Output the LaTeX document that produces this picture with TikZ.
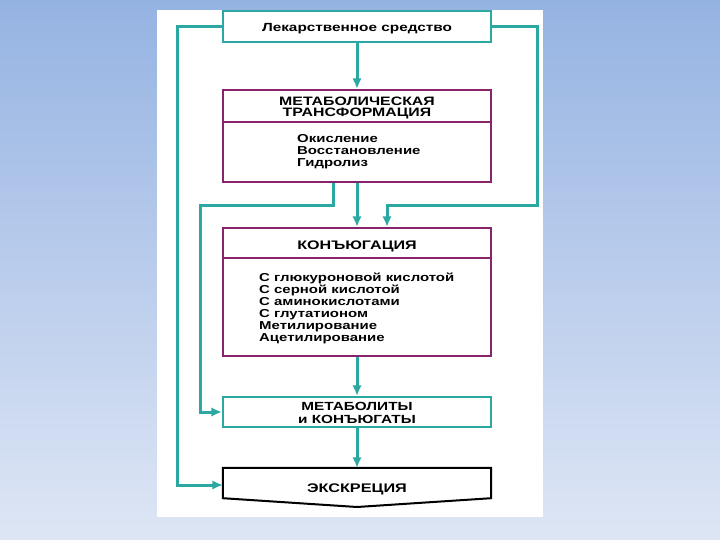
\documentclass[tikz,border=0pt]{standalone}
\usepackage{fontspec}
\setmainfont{Liberation Sans}[FakeStretch=1.3]
\usetikzlibrary{arrows.meta}
\definecolor{teal1}{RGB}{44,168,163}
\definecolor{purp}{RGB}{136,36,108}
\definecolor{bgtop}{RGB}{149,179,226}
\definecolor{bgbot}{RGB}{222,230,245}
\begin{document}
\begin{tikzpicture}[x=1pt,y=-1pt,
  tealbox/.style={draw=teal1,line width=2.3pt,fill=white,minimum width=268pt,inner sep=0pt},
  purpbox/.style={draw=purp,line width=2.3pt,fill=white,minimum width=268pt,inner sep=0pt},
  lbl/.style={inner sep=0pt, align=center},
  lst/.style={font=\fontsize{11.5}{12}\selectfont\bfseries, inner sep=0pt, align=left, anchor=north west},
  conn/.style={draw=teal1,line width=3pt},
  arr/.style={conn,-{Latex[length=10.5pt,width=9.5pt]}}
]
\useasboundingbox (0pt,0pt) rectangle (720pt,-540pt);
\shade[top color=bgtop,bottom color=bgbot] (0pt,0pt) rectangle (720pt,-540pt);
\fill[white] (157,10) rectangle (543,517);

% boxes
\node[tealbox,minimum height=31pt] (b1) at (357,26.5) {};
\node[lbl,font=\fontsize{11.8}{12}\selectfont\bfseries] (t1) at (357,29) {Лекарственное средство};

\node[purpbox,minimum height=92pt] (b2) at (357,136) {};
\draw[purp,line width=2.3pt] (b2.west |- 0,122) -- (b2.east |- 0,122);
\node[lbl,font=\fontsize{12.2}{11.7}\selectfont\bfseries] (t2) at (357,108) {МЕТАБОЛИЧЕСКАЯ\\ТРАНСФОРМАЦИЯ};
\node[lst] (l2) at (297,134.5) {Окисление\\Восстановление\\Гидролиз};

\node[purpbox,minimum height=128pt] (b3) at (357,292) {};
\draw[purp,line width=2.3pt] (b3.west |- 0,258) -- (b3.east |- 0,258);
\node[lbl,font=\fontsize{12.4}{12}\selectfont\bfseries] (t3) at (357,246) {КОНЪЮГАЦИЯ};
\node[lst] (l3) at (259,272.5) {С глюкуроновой кислотой\\С серной кислотой\\С аминокислотами\\С глутатионом\\Метилирование\\Ацетилирование};

\node[tealbox,minimum height=30pt] (b4) at (357,412) {};
\node[lbl,font=\fontsize{11.8}{13}\selectfont\bfseries] (t4) at (357,413) {МЕТАБОЛИТЫ\\и КОНЪЮГАТЫ};

\node[minimum width=268pt,minimum height=30pt,inner sep=0pt] (b5) at (357,483) {};
\draw[black,line width=2pt,fill=white] (b5.north west) -- (b5.north east) -- (b5.south east) -- (357,507) -- (b5.south west) -- cycle;
\node[lbl,font=\fontsize{12.5}{12}\selectfont\bfseries] (t5) at (357,489) {ЭКСКРЕЦИЯ};

% connectors
\draw[arr] (b1) -- (b2);
\draw[arr] (b2) -- (b3);
\draw[arr] (b3) -- (b4);
\draw[arr] (b4.south) -- (b5.north);
\draw[arr] (b1.west) -| (177,485) -- (b5.west |- 0,485);
\draw[arr] (b1.east) -| (537,206) -| (b3.north -| 387,0);
\draw[arr] (b2.south -| 333,0) |- (200,206) |- (b4.west);
\end{tikzpicture}
\end{document}
